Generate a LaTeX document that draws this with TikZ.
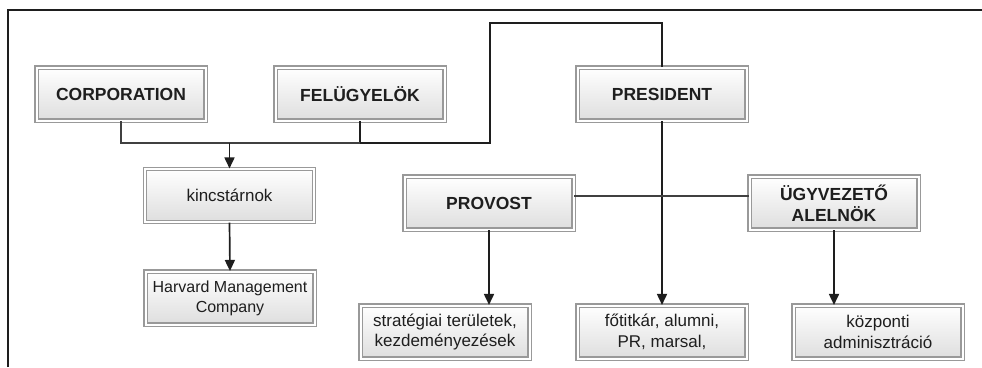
\documentclass[tikz,border=0pt]{standalone}
\usepackage{fontspec}
\setmainfont{Liberation Sans}
\usetikzlibrary{arrows.meta}
\definecolor{boxline}{HTML}{999999}
\definecolor{ink}{HTML}{1E1E1E}
\tikzset{
  orgbox/.style={draw=boxline, double=white, double distance=2pt, line width=1.1pt,
    top color=white, bottom color=black!13, minimum width=169pt, minimum height=53pt,
    align=center, text=ink, inner sep=0pt},
  boldtext/.style={font=\fontsize{17.5}{21}\selectfont\bfseries},
  plaintext/.style={font=\fontsize{17}{20.5}\selectfont},
  link/.style={draw=ink, line width=1.7pt},
  thinlink/.style={draw=ink!85, line width=1.2pt},
  arr/.style={link, -{Triangle[length=11pt,width=10pt]}},
}
\begin{document}
\begin{tikzpicture}[x=1pt,y=-1pt]
\useasboundingbox (0,0) rectangle (982,367);
% frame
\draw[ink, line width=1.3pt] (8,367) -- (8,10) -- (982,10);
% nodes
\node[orgbox, boldtext] (corp) at (121,94) {CORPORATION};
\node[orgbox, boldtext] (fel) at (360,94) {FELÜGYELÖK};
\node[orgbox, boldtext] (pres) at (662,94) {PRESIDENT};
\node[orgbox, plaintext] (kinc) at (229.5,195.5) {kincstárnok};
\node[orgbox, font=\fontsize{16}{20}\selectfont] (hmc) at (230,298) {Harvard Management\\Company};
\node[orgbox, boldtext] (prov) at (489,203) {PROVOST};
\node[orgbox, boldtext] (ugy) at (834,203) {ÜGYVEZETŐ\\ALELNÖK};
\node[orgbox, plaintext] (strat) at (445,332) {stratégiai területek,\\kezdeményezések};
\node[orgbox, plaintext] (fot) at (662,332) {főtitkár, alumni,\\PR, marsal,};
\node[orgbox, plaintext] (kozp) at (878,332) {központi\\adminisztráció};
% connectors
\coordinate (top) at (662,23);
\coordinate (jn) at (490,143);
\draw[link] (pres.north) -- (top) -| (jn) -- (jn -| fel.south);
\draw[link] (jn -| fel.south) -- (fel.south);
\draw[thinlink] (jn -| fel.south) -- (jn -| corp.south) -- (corp.south);
\draw[arr] (jn -| kinc.north) -- (kinc.north);
\draw[arr] (kinc.south) -- (hmc.north);
\draw[arr] (pres.south) -- (fot.north);
\draw[thinlink] (prov.east |- 0,196) -- (ugy.west |- 0,196);
\draw[arr] (prov.south) -- (prov.south |- strat.north);
\draw[arr] (ugy.south) -- (ugy.south |- kozp.north);
\end{tikzpicture}
\end{document}
